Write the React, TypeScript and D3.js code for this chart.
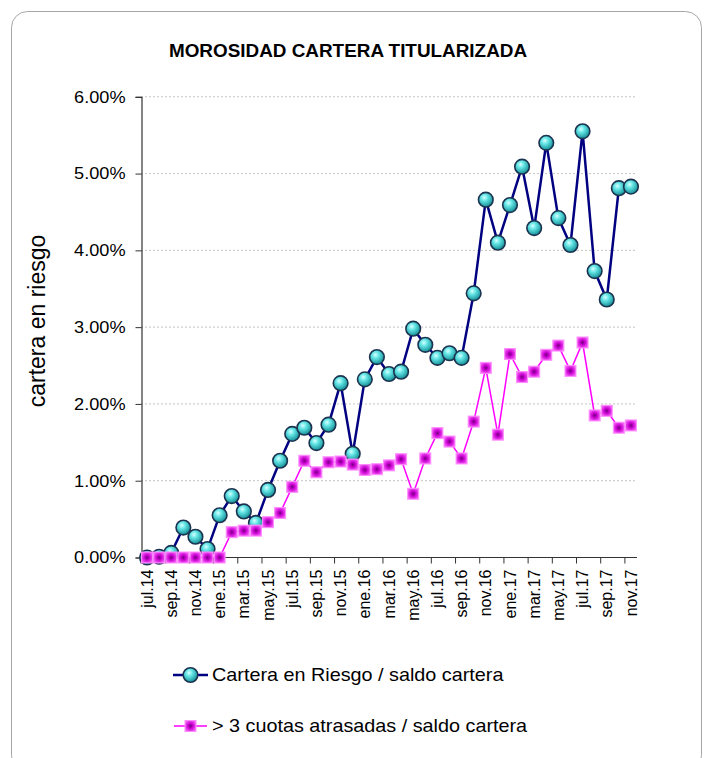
import React, { useRef, useEffect } from 'react';
import * as d3 from 'd3';

const months = [
  'jul.14', 'ago.14', 'sep.14', 'oct.14', 'nov.14', 'dic.14',
  'ene.15', 'feb.15', 'mar.15', 'abr.15', 'may.15', 'jun.15', 'jul.15', 'ago.15', 'sep.15', 'oct.15', 'nov.15', 'dic.15',
  'ene.16', 'feb.16', 'mar.16', 'abr.16', 'may.16', 'jun.16', 'jul.16', 'ago.16', 'sep.16', 'oct.16', 'nov.16', 'dic.16',
  'ene.17', 'feb.17', 'mar.17', 'abr.17', 'may.17', 'jun.17', 'jul.17', 'ago.17', 'sep.17', 'oct.17', 'nov.17',
];

// % values
const carteraRiesgo = [
  0.0, 0.01, 0.06, 0.39, 0.27, 0.11, 0.55, 0.8, 0.6, 0.45, 0.88, 1.26, 1.61, 1.69, 1.49, 1.73, 2.27, 1.35,
  2.32, 2.61, 2.39, 2.42, 2.98, 2.77, 2.6, 2.66, 2.6, 3.44, 4.66, 4.1, 4.59, 5.09, 4.29, 5.4, 4.42, 4.07,
  5.55, 3.73, 3.36, 4.81, 4.83,
];

const cuotasAtrasadas = [
  0, 0, 0, 0, 0, 0, 0, 0.33, 0.35, 0.35, 0.46, 0.58, 0.92, 1.26, 1.11, 1.24, 1.25, 1.21,
  1.14, 1.15, 1.2, 1.28, 0.83, 1.29, 1.62, 1.51, 1.29, 1.77, 2.47, 1.6, 2.65, 2.35, 2.42, 2.64, 2.76, 2.43,
  2.8, 1.85, 1.91, 1.69, 1.72,
];

const yTicks = [0, 1, 2, 3, 4, 5, 6];

const title = 'MOROSIDAD CARTERA TITULARIZADA';
const yTitle = 'cartera en riesgo';
const seriesNames = ['Cartera en Riesgo / saldo cartera', '> 3 cuotas atrasadas / saldo cartera'];

const FONT = '"Liberation Sans", Arial, sans-serif';

const App = () => {
  const svgRef = useRef(null);

  useEffect(() => {
    const svg = d3.select(svgRef.current);
    svg.selectAll('*').remove();

    const x = d3.scaleBand().domain(months).range([141, 637]).padding(0);
    const y = d3.scaleLinear().domain([0, 6]).range([557.5, 96.8]);
    const cx = (m) => x(m) + x.bandwidth() / 2;

    // gradients for the markers
    const defs = svg.append('defs');
    const rg = defs.append('radialGradient').attr('id', 'ball').attr('cx', '40%').attr('cy', '35%').attr('r', '65%');
    rg.append('stop').attr('offset', '0%').attr('stop-color', '#d8ffff');
    rg.append('stop').attr('offset', '35%').attr('stop-color', '#66e6e6');
    rg.append('stop').attr('offset', '100%').attr('stop-color', '#138f96');
    const sg = defs.append('radialGradient').attr('id', 'sq').attr('cx', '50%').attr('cy', '50%').attr('r', '62%');
    sg.append('stop').attr('offset', '0%').attr('stop-color', '#70007a');
    sg.append('stop').attr('offset', '35%').attr('stop-color', '#c800d0');
    sg.append('stop').attr('offset', '100%').attr('stop-color', '#ff70ff');

    // frame
    svg.append('rect')
      .attr('x', 11.5).attr('y', 11.5).attr('width', 690).attr('height', 760)
      .attr('rx', 16).attr('fill', '#fff').attr('stroke', '#a6a6a6').attr('stroke-width', 1);

    // title
    svg.append('text')
      .attr('transform', 'translate(348,57) scale(1.08,1)')
      .attr('text-anchor', 'middle')
      .attr('font-family', FONT).attr('font-size', 17.5).attr('font-weight', 'bold')
      .text(title);

    // gridlines
    svg.append('g')
      .selectAll('line')
      .data(yTicks.filter(d => d > 0))
      .join('line')
      .attr('x1', 141).attr('x2', 637)
      .attr('y1', d => y(d)).attr('y2', d => y(d))
      .attr('stroke', '#c4c4c4').attr('stroke-dasharray', '2,2').attr('stroke-width', 1);

    // y axis
    const yAxis = svg.append('g')
      .attr('transform', 'translate(141.5,0)')
      .call(d3.axisLeft(y).tickValues(yTicks).tickFormat(d => `${d.toFixed(2)}%`).tickSize(6).tickPadding(10));
    yAxis.select('.domain').attr('stroke', '#333').attr('stroke-width', 1.2);
    yAxis.selectAll('.tick line').attr('stroke', '#333');
    yAxis.selectAll('.tick text')
      .attr('font-family', FONT).attr('font-size', 16.5).attr('fill', '#000')
      .attr('transform', 'translate(-16,0) scale(1.1,1) translate(16,0)');

    // x axis
    const xg = svg.append('g').attr('transform', 'translate(0,557.5)');
    xg.append('line').attr('x1', 141).attr('x2', 637).attr('stroke', '#333').attr('stroke-width', 1.2);
    const tickBounds = d3.range(0, months.length + 1, 2).map(i => 141 + i * x.bandwidth());
    xg.selectAll('.xt')
      .data(tickBounds)
      .join('line')
      .attr('class', 'xt')
      .attr('x1', d => d).attr('x2', d => d)
      .attr('y1', 0).attr('y2', 6)
      .attr('stroke', '#333');
    xg.selectAll('.xl')
      .data(months.filter((m, i) => i % 2 === 0))
      .join('text')
      .attr('class', 'xl')
      .attr('transform', d => `translate(${cx(d)},12) rotate(-90)`)
      .attr('dy', '0.35em')
      .attr('text-anchor', 'end')
      .attr('font-family', FONT).attr('font-size', 16)
      .text(d => d);

    // y title
    svg.append('text')
      .attr('transform', 'translate(45,321) rotate(-90)')
      .attr('text-anchor', 'middle')
      .attr('font-family', FONT).attr('font-size', 23)
      .text(yTitle);

    const line = d3.line().x(d => cx(d.m)).y(d => y(d.v));
    const s1 = months.map((m, i) => ({ m, v: carteraRiesgo[i] }));
    const s2 = months.map((m, i) => ({ m, v: cuotasAtrasadas[i] }));

    // series 1: navy line + cyan balls
    svg.append('path').datum(s1).attr('d', line)
      .attr('fill', 'none').attr('stroke', '#000080').attr('stroke-width', 2.5);
    svg.append('g').selectAll('circle').data(s1).join('circle')
      .attr('cx', d => cx(d.m)).attr('cy', d => y(d.v)).attr('r', 7.3)
      .attr('fill', 'url(#ball)').attr('stroke', '#1c3350').attr('stroke-width', 1.6);

    // series 2: magenta line + squares
    svg.append('path').datum(s2).attr('d', line)
      .attr('fill', 'none').attr('stroke', '#ff00ff').attr('stroke-width', 1.5);
    svg.append('g').selectAll('rect').data(s2).join('rect')
      .attr('x', d => cx(d.m) - 5.5).attr('y', d => y(d.v) - 5.5)
      .attr('width', 11).attr('height', 11)
      .attr('fill', 'url(#sq)').attr('stroke', '#ff8cff').attr('stroke-width', 1);

    // legend
    const leg = svg.append('g');
    const ly = [675, 726];
    leg.append('line').attr('x1', 173).attr('x2', 208).attr('y1', ly[0]).attr('y2', ly[0])
      .attr('stroke', '#000080').attr('stroke-width', 2.5);
    leg.append('circle').attr('cx', 190.5).attr('cy', ly[0]).attr('r', 7.3)
      .attr('fill', 'url(#ball)').attr('stroke', '#1c3350').attr('stroke-width', 1.6);
    leg.append('line').attr('x1', 174).attr('x2', 207).attr('y1', ly[1]).attr('y2', ly[1])
      .attr('stroke', '#ff00ff').attr('stroke-width', 1.5);
    leg.append('rect').attr('x', 185).attr('y', ly[1] - 5.5).attr('width', 11).attr('height', 11)
      .attr('fill', 'url(#sq)').attr('stroke', '#ff8cff').attr('stroke-width', 1);
    leg.selectAll('.lt').data(seriesNames).join('text')
      .attr('class', 'lt')
      .attr('transform', (d, i) => `translate(212,${ly[i]}) scale(1.1,1)`)
      .attr('dy', '0.35em')
      .attr('font-family', FONT).attr('font-size', 18)
      .text(d => d);
  }, []);

  return (
    <svg ref={svgRef} width={705} height={758} style={{ position: 'absolute', left: 0, top: 0 }}></svg>
  );
};

export default App;
